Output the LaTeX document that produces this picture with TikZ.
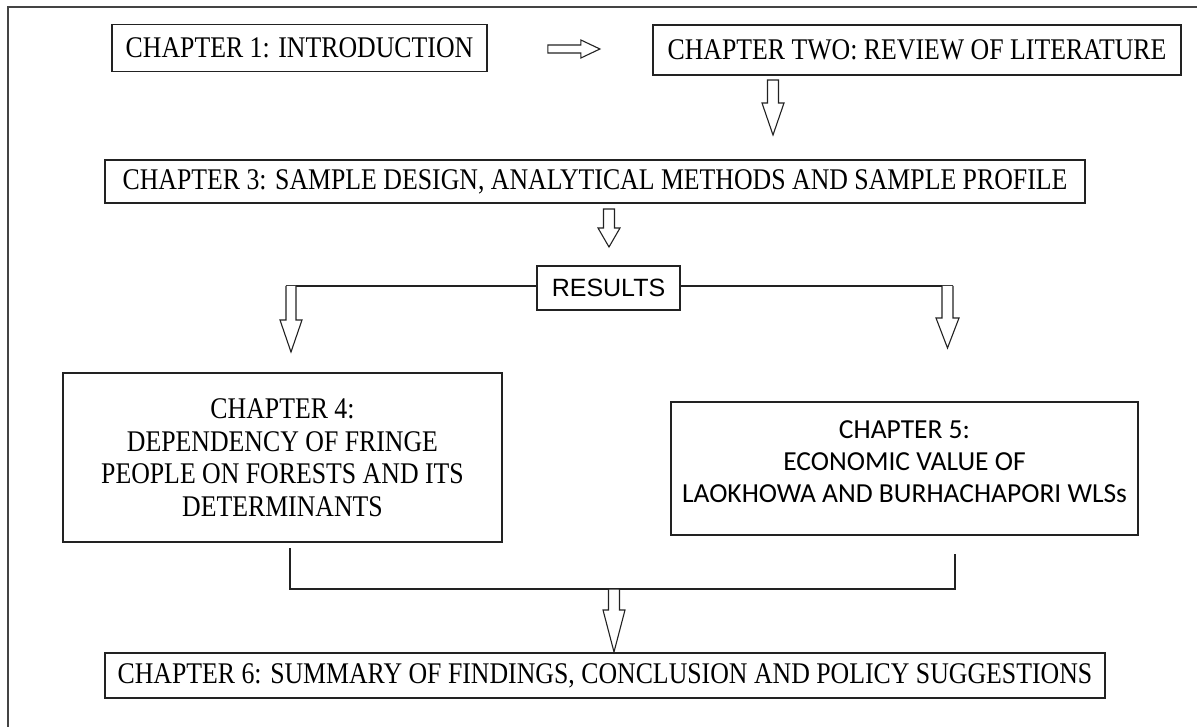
\documentclass[tikz,border=0pt]{standalone}
\usepackage{fontspec}
\setmainfont{Liberation Serif}[FakeStretch=0.86]
\newfontfamily\calfont{Carlito}
\newfontfamily\arfont{Liberation Sans}
\usetikzlibrary{calc}
\definecolor{ln}{HTML}{222222}
\definecolor{fr}{HTML}{444444}
\tikzset{
  box/.style={draw=ln, line width=1.8pt, inner sep=0pt, align=center,
              font=\fontsize{30}{32.5}\selectfont},
  conn/.style={draw=ln, line width=1.4pt},
  barrow/.style={draw=ln, line width=1.1pt, fill=white, line join=miter},
}
% vertical hollow block arrow: x, top y, head y, tip y
\newcommand{\vblock}[4]{%
  \draw[barrow] (#1-5.5,#2) -- (#1-5.5,#3) -- (#1-11,#3) -- (#1,#4) -- (#1+11,#3)
    -- (#1+5.5,#3) -- (#1+5.5,#2) -- cycle;}
\begin{document}
\begin{tikzpicture}[x=1pt,y=-1pt]
\useasboundingbox (0,0) rectangle (1197,727);
\fill[white] (0,0) rectangle (1197,727);
\draw[draw=fr, line width=2pt] (1197,7) -- (8,7) -- (8,727);

\node[box, minimum width=375pt, minimum height=47pt] (ch1) at (299.5,48) {CHAPTER 1: INTRODUCTION};
\node[box, minimum width=528pt, minimum height=50pt] (ch2) at (917,50) {CHAPTER TWO: REVIEW OF LITERATURE};
\node[box, minimum width=980pt, minimum height=43pt] (ch3) at (595,181.5) {CHAPTER 3: SAMPLE DESIGN, ANALYTICAL METHODS AND SAMPLE PROFILE};
\node[box, font=\arfont\fontsize{25}{30}\selectfont, minimum width=143pt, minimum height=44pt] (res) at (608.5,288) {RESULTS};
\node[box, minimum width=439pt, minimum height=169pt] (ch4) at (282.5,457.5) {CHAPTER 4:\\DEPENDENCY OF FRINGE\\PEOPLE ON FORESTS AND ITS\\DETERMINANTS};
\node[box, font=\calfont\fontsize{27.5}{32}\selectfont, minimum width=467pt, minimum height=133pt] (ch5) at (904.5,468.5) {CHAPTER 5:\\ECONOMIC VALUE OF\\LAOKHOWA AND BURHACHAPORI WLSs\\[-18pt]\mbox{}};
\node[box, minimum width=1000pt, minimum height=45pt] (ch6) at (605,675.5) {CHAPTER 6: SUMMARY OF FINDINGS, CONCLUSION AND POLICY SUGGESTIONS};

% ch1 -> ch2 horizontal hollow arrow
\draw[barrow] ($(ch1.east)+(60,-3)$) -- ++(33,0) -- ++(0,-5) -- ++(19,9) -- ++(-19,9) -- ++(0,-5) -- ++(-33,0) -- cycle;

% ch2 -> ch3, ch3 -> results
\vblock{773}{80}{103}{135}
\vblock{609}{209}{228}{247}

% results -> ch4 / ch5
\draw[conn] (res.west |- 0,286) -- (286,286);
\draw[conn] (res.east |- 0,286) -- (953,286);
\draw[barrow] (286,286) -- (286,320) -- (280,320) -- (291,352) -- (302,320) -- (296,320) -- (296,286);
\draw[barrow] (953,286) -- (953,318) -- (959,318) -- (947.5,348) -- (936,318) -- (942,318) -- (942,286);

% ch4 / ch5 -> ch6
\coordinate (l4) at (290,548);
\coordinate (l5) at (955,554);
\draw[conn] (l4) -- (290,589) -- (955,589) -- (l5);
\vblock{614}{589}{610}{652}
\end{tikzpicture}
\end{document}
